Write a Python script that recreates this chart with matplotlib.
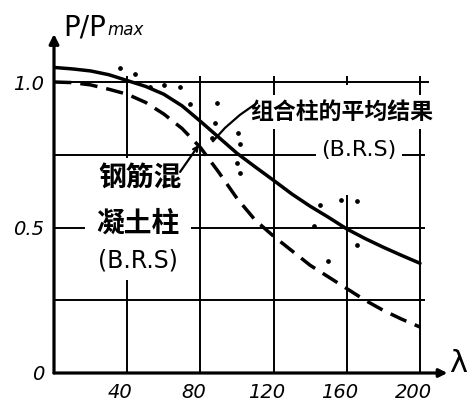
import matplotlib
matplotlib.use('Agg')
import matplotlib.pyplot as plt
from matplotlib.transforms import ScaledTranslation

plt.rcParams['font.family'] = ['DejaVu Sans']

# 组合柱的平均结果 (B.R.S) - solid
solid_lam = [0, 10, 20, 30, 40, 50, 60, 70, 80, 90, 100, 110, 120, 130, 140, 150, 160, 170, 180, 190, 200]
solid_p = [1.05, 1.045, 1.038, 1.025, 1.005, 0.985, 0.958, 0.918, 0.865, 0.81, 0.755, 0.708,
           0.662, 0.615, 0.573, 0.535, 0.495, 0.462, 0.432, 0.404, 0.377]

# 钢筋混凝土柱 (B.R.S) - dashed
dash_lam = [0, 10, 20, 30, 40, 50, 60, 70, 80, 90, 100, 110, 120, 130, 140, 150, 160, 170, 180, 190, 200]
dash_p = [1.0, 0.998, 0.99, 0.975, 0.958, 0.93, 0.89, 0.84, 0.775, 0.69, 0.60, 0.525,
          0.47, 0.42, 0.37, 0.33, 0.29, 0.25, 0.215, 0.185, 0.158]

# test points
pts_lam = [36.1, 44.3, 52.5, 60.1, 68.9, 74.3, 89.1, 88.0, 86.3, 100.5, 101.6, 100.0, 101.6,
           145.4, 156.8, 165.6, 142.1, 165.6, 149.7]
pts_p = [1.048, 1.027, 0.983, 0.990, 0.983, 0.924, 0.928, 0.859, 0.808, 0.825, 0.787, 0.722, 0.687,
         0.577, 0.595, 0.591, 0.505, 0.44, 0.385]

x_ticks = [40, 80, 120, 160, 200]
y_ticks = [0, 0.5, 1.0]
y_ticklabels = ['0', '0.5', '1.0']
h_grid = [0.25, 0.5, 0.75, 1.0]

fig = plt.figure(figsize=(4.73, 4.05), dpi=100)
fig.patch.set_facecolor('white')
ax = fig.add_axes([54 / 473, 32 / 405, 215 * 1.83 / 473, 1.2 * 291 / 405])
ax.set_xlim(0, 215)
ax.set_ylim(0, 1.2)
for s in ax.spines.values():
    s.set_visible(False)

# axes with arrows
ax.annotate('', xy=(0, 1.165), xytext=(0, 0), annotation_clip=False,
            arrowprops=dict(arrowstyle='-|>', lw=2.3, color='k', mutation_scale=14, shrinkA=0, shrinkB=0))
ax.annotate('', xy=(215, 0), xytext=(0, 0), annotation_clip=False,
            arrowprops=dict(arrowstyle='-|>', lw=2.3, color='k', mutation_scale=12, shrinkA=0, shrinkB=0))

# hand drawn grid
for y in h_grid:
    ax.hlines(y, 0, 205 if y == 1.0 else 203, color='k', lw=1.4, zorder=1)
for x in x_ticks:
    if x == 160:
        ax.vlines(x, 0, 0.61, color='k', lw=1.4, zorder=1)
        ax.vlines(x, 0.99, 1.02, color='k', lw=1.4, zorder=1)
    else:
        ax.vlines(x, 0, 1.02, color='k', lw=1.4, zorder=1)

ax.plot(solid_lam, solid_p, color='k', lw=2.5, solid_capstyle='round', zorder=5)
ax.plot(dash_lam, dash_p, color='k', lw=2.5, dashes=(5, 2.6), zorder=5)
ax.plot(pts_lam, pts_p, 'o', color='k', ms=2.4, zorder=5)

ax.set_xticks(x_ticks)
ax.set_xticklabels([str(v) for v in x_ticks], fontsize=14, style='italic')
ax.set_yticks(y_ticks)
ax.set_yticklabels(y_ticklabels, fontsize=14, style='italic')
ax.tick_params(length=0, pad=7)
for lab in ax.get_xticklabels():
    lab.set_transform(lab.get_transform() + ScaledTranslation(-0.07, 0, fig.dpi_scale_trans))

cjk = ['Noto Sans CJK SC', 'DejaVu Sans']
box = dict(facecolor='white', edgecolor='none', pad=4)
ax.text(157.4, 0.897, '组合柱的平均结果', family=cjk, fontsize=16.5, fontweight='bold',
        ha='center', va='center', bbox=box, zorder=4)
ax.text(166.7, 0.766, '(B.R.S)', fontsize=16, ha='center', va='center', bbox=box, zorder=4)
ax.text(47, 0.67, '钢筋混', family=cjk, fontsize=20, fontweight='bold', ha='center', va='center',
        bbox=dict(facecolor='white', edgecolor='none', pad=4.5), zorder=4)
ax.text(45.9, 0.515, '凝土柱', family=cjk, fontsize=20, fontweight='bold', ha='center', va='center',
        bbox=dict(facecolor='white', edgecolor='none', pad=8), zorder=4)
ax.text(45.9, 0.385, '(B.R.S)', fontsize=17, ha='center', va='center',
        bbox=dict(facecolor='white', edgecolor='none', pad=5), zorder=4)

# leader lines
ax.plot([110.9, 101.6, 93.4, 86.9], [0.928, 0.887, 0.842, 0.797], color='k', lw=1.6, zorder=5)
ax.annotate('', xy=(79.2, 0.784), xytext=(68.9, 0.691),
            arrowprops=dict(arrowstyle='->', lw=1.6, color='k', mutation_scale=8, shrinkA=0, shrinkB=0),
            zorder=5)

fig.text(63 / 473, 1 - 35 / 405, 'P/P', fontsize=20, va='baseline', ha='left')
fig.text(107 / 473, 1 - 35 / 405, 'max', fontsize=12, style='italic', va='baseline', ha='left')
fig.text(458 / 473, 1 - 364 / 405, 'λ', fontsize=22, va='center', ha='center')

fig.savefig('out.png', dpi=100, facecolor='white')
